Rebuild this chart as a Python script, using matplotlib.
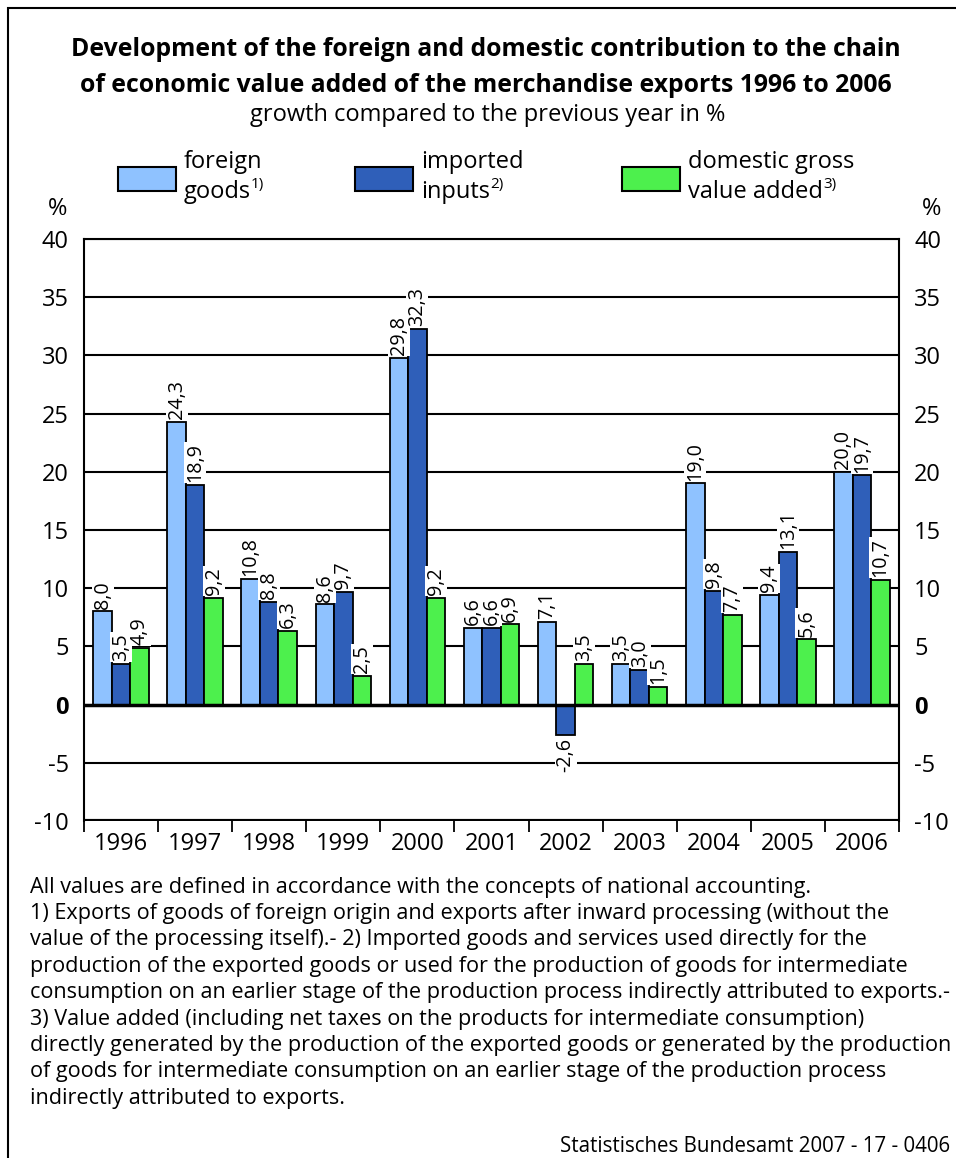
import matplotlib
matplotlib.use("Agg")
import matplotlib.pyplot as plt
from matplotlib.patches import Rectangle
import numpy as np

years = ["1996", "1997", "1998", "1999", "2000", "2001", "2002", "2003", "2004", "2005", "2006"]
foreign_goods = [8.0, 24.3, 10.8, 8.6, 29.8, 6.6, 7.1, 3.5, 19.0, 9.4, 20.0]
imported_inputs = [3.5, 18.9, 8.8, 9.7, 32.3, 6.6, -2.6, 3.0, 9.8, 13.1, 19.7]
domestic_gva = [4.9, 9.2, 6.3, 2.5, 9.2, 6.9, 3.5, 1.5, 7.7, 5.6, 10.7]
series_names = [("foreign", "goods", "1)"), ("imported", "inputs", "2)"), ("domestic gross", "value added", "3)")]
colors = ["#8FC2FF", "#2F5FB9", "#4DF04D"]
yticks = [-10, -5, 0, 5, 10, 15, 20, 25, 30, 35, 40]

title1 = "Development of the foreign and domestic contribution to the chain"
title2 = "of economic value added of the merchandise exports 1996 to 2006"
subtitle = "growth compared to the previous year in %"
footnotes = [
    "All values are defined in accordance with the concepts of national accounting.",
    "1) Exports of goods of foreign origin and exports after inward processing (without the",
    "value of the processing itself).- 2) Imported goods and services used directly for the",
    "production of the exported goods or used for the production of goods for intermediate",
    "consumption on an earlier stage of the production process indirectly attributed to exports.-",
    "3) Value added (including net taxes on the products for intermediate consumption)",
    "directly generated by the production of the exported goods or generated by the production",
    "of goods for intermediate consumption on an earlier stage of the production process",
    "indirectly attributed to exports.",
]
source = "Statistisches Bundesamt 2007 - 17 - 0406"

plt.rcParams['font.family'] = ['Open Sans', 'DejaVu Sans']

W, H = 956, 1158
fig = plt.figure(figsize=(W / 100, H / 100), dpi=100)

def fx(px):
    return px / W

def fy(py):
    return 1 - py / H

# frame
fig.patches.append(Rectangle((fx(8), fy(1300)), fx(1000), fy(8) - fy(1300),
                             transform=fig.transFigure, fill=False, edgecolor="black", lw=1.5))

ax = fig.add_axes([fx(84), fy(821), fx(899) - fx(84), fy(239) - fy(821)])
x = np.arange(len(years))
bw = 0.25
series = [foreign_goods, imported_inputs, domestic_gva]
for i, (vals, c) in enumerate(zip(series, colors)):
    pos = x + (i - 1) * bw
    ax.bar(pos, vals, width=bw, color=c, edgecolor="black", linewidth=1.3, zorder=3)
    for xp, v in zip(pos, vals):
        lab = f"{v:.1f}".replace(".", ",")
        off, va = (2, "bottom") if v >= 0 else (-2, "top")
        ax.annotate(lab, (xp, v), xytext=(0, off), textcoords="offset points",
                    rotation=90, ha="center", va=va, fontsize=14.2, zorder=4,
                    bbox=dict(boxstyle="square,pad=0.05", fc="white", ec="none"))

ax.set_xlim(-0.5, len(years) - 0.5)
ax.set_ylim(-10, 40)
for yv in yticks:
    lw = 1.5
    if yv == 0:
        lw = 2.5
    if yv == -10:
        lw = 3.0
    ax.axhline(yv, color="black", lw=lw, zorder=2 if yv != 0 else 3.5)

ax.set_yticks(yticks)
ax.set_yticklabels([str(t) for t in yticks])
ax.tick_params(axis="y", which="both", length=0, labelsize=17, pad=11,
               left=False, right=False, labelleft=True, labelright=True)
for t in ax.yaxis.get_major_ticks():
    if t.label1.get_text() == "0":
        t.label1.set_fontweight("bold")
        t.label2.set_fontweight("bold")
ax.set_xticks(x)
ax.set_xticklabels(years, fontsize=17)
ax.tick_params(axis="x", which="major", length=0, pad=8)
ax.set_xticks(np.arange(len(years) + 1) - 0.5, minor=True)
ax.tick_params(axis="x", which="minor", length=8, width=1.3, color="black", direction="out")
for s in ["left", "right", "top"]:
    ax.spines[s].set_linewidth(1.5)
ax.spines["bottom"].set_visible(False)
ax.set_facecolor("white")

# title
fig.text(fx(486), fy(50), title1, ha="center", va="center", fontsize=17.8, fontweight="bold")
fig.text(fx(486), fy(85), title2, ha="center", va="center", fontsize=17.8, fontweight="bold")
fig.text(fx(488), fy(115), subtitle, ha="center", va="center", fontsize=17)

# legend
leg_x = [118, 355, 622]
for (l1, l2, sup), c, lx in zip(series_names, colors, leg_x):
    fig.patches.append(Rectangle((fx(lx), fy(191)), fx(58), fy(167) - fy(191),
                                 transform=fig.transFigure, facecolor=c, edgecolor="black", lw=1.5))
    fig.text(fx(lx + 66), fy(162), l1, ha="left", va="center", fontsize=17)
    t2 = fig.text(fx(lx + 66), fy(192), l2, ha="left", va="center", fontsize=17)
    ax.annotate(sup, xy=(1.0, 0.8), xycoords=t2, ha="left", va="center", fontsize=11,
                annotation_clip=False)

fig.text(fx(58), fy(209), "%", ha="center", va="center", fontsize=17)
fig.text(fx(932), fy(209), "%", ha="center", va="center", fontsize=17)

y0 = 887
for i, line in enumerate(footnotes):
    fig.text(fx(30), fy(y0 + i * 26.4), line, ha="left", va="center", fontsize=15.6)
fig.text(fx(950), fy(1146), source, ha="right", va="center", fontsize=14.8)

fig.savefig("out.png", dpi=100)
